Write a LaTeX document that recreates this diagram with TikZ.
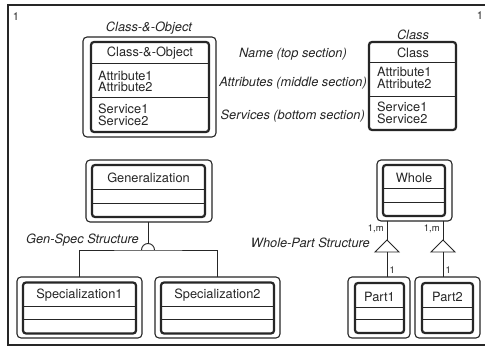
\documentclass[tikz,border=0pt]{standalone}
\usepackage{fontspec}
\setmainfont{TeX Gyre Heros}
\definecolor{ink}{gray}{0.15}
\begin{document}
\begin{tikzpicture}[x=1pt,y=-1pt,
  outerbox/.style={draw=ink, line width=1.1pt, rounded corners=4pt, inner sep=0pt, outer sep=0pt},
  innerbox/.style={draw=ink, line width=2.2pt, rounded corners=3pt, inner sep=0pt, outer sep=0pt},
  divider/.style={draw=ink, line width=0.9pt},
  conn/.style={draw=ink, line width=0.9pt},
  frame/.style={draw=ink, line width=1.6pt},
  txt/.style={font=\fontsize{12.8}{11.5}\selectfont, text=ink, inner sep=0pt, align=left},
  lbl/.style={font=\fontsize{12.8}{11.5}\selectfont\itshape, text=ink, inner sep=0pt},
  small/.style={font=\fontsize{9.5}{9.5}\selectfont, text=ink, inner sep=0pt},
  pagenum/.style={font=\fontsize{11}{11}\selectfont, text=ink, inner sep=0pt}]
\useasboundingbox (0,0) rectangle (485,352);
\fill[white] (0,0) rectangle (485,352);
% frame
\draw[frame] (485,5) -- (8,5) -- (8,345) -- (485,345);
\node[pagenum] (n1) at (16,17) {1};
\node[pagenum] (n2) at (480,16) {1};

% Class-&-Object
\node[lbl] (coTitle) at (149,28) {Class-\&-Object};
\node[outerbox, minimum width=133pt, minimum height=100pt] (coO) at (149.5,87) {};
\node[innerbox, minimum width=118pt, minimum height=90pt] (coI) at (150,87) {};
\draw[divider] (coI.west |- 0,63) -- (coI.east |- 0,63);
\draw[divider] (coI.west |- 0,97) -- (coI.east |- 0,97);
\node[txt] (coName) at (150,53.5) {Class-\&-Object};
\node[txt, anchor=west] (coAttr) at (98,81.5) {Attribute1\\Attribute2};
\node[txt, anchor=west] (coServ) at (98,115) {Service1\\Service2};

% middle labels
\node[lbl] (lName) at (293,54) {Name (top section)};
\node[lbl, anchor=east] (lAttr) at (367,83) {Attributes (middle section)};
\node[lbl, anchor=east] (lServ) at (365,116) {Services (bottom section)};

% Class
\node[lbl] (clTitle) at (413,35) {Class};
\node[innerbox, minimum width=87pt, minimum height=88pt] (clI) at (412.5,86) {};
\draw[divider] (clI.west |- 0,62) -- (clI.east |- 0,62);
\draw[divider] (clI.west |- 0,96) -- (clI.east |- 0,96);
\node[txt] (clName) at (413,53) {Class};
\node[txt, anchor=west] (clAttr) at (377,78) {Attribute1\\Attribute2};
\node[txt, anchor=west] (clServ) at (377,113) {Service1\\Service2};

% Generalization
\node[outerbox, minimum width=126pt, minimum height=62pt] (genO) at (149,191) {};
\node[innerbox, minimum width=113pt, minimum height=52pt] (genI) at (148.5,191) {};
\draw[divider] (genI.west |- 0,189) -- (genI.east |- 0,189);
\draw[divider] (genI.west |- 0,203) -- (genI.east |- 0,203);
\node[txt] (genName) at (148.5,177.5) {Generalization};

% Specialization1
\node[outerbox, minimum width=125pt, minimum height=61pt] (sp1O) at (79.5,307.5) {};
\node[innerbox, minimum width=113pt, minimum height=51pt] (sp1I) at (79.5,308) {};
\draw[divider] (sp1I.west |- 0,306) -- (sp1I.east |- 0,306);
\draw[divider] (sp1I.west |- 0,319) -- (sp1I.east |- 0,319);
\node[txt] (sp1Name) at (79.5,295.5) {Specialization1};

% Specialization2
\node[outerbox, minimum width=125pt, minimum height=61pt] (sp2O) at (217.5,307.5) {};
\node[innerbox, minimum width=113pt, minimum height=51pt] (sp2I) at (217.5,308) {};
\draw[divider] (sp2I.west |- 0,306) -- (sp2I.east |- 0,306);
\draw[divider] (sp2I.west |- 0,319) -- (sp2I.east |- 0,319);
\node[txt] (sp2Name) at (217.5,295.5) {Specialization2};

% Gen-Spec structure
\coordinate (gsTop) at (148,243.5);
\coordinate (gsBase) at (148,250);
\draw[conn] (genO.south -| gsTop) -- (gsTop);
\draw[conn] (gsBase) ++(-6.5,0) arc[start angle=180, end angle=360, radius=6.5];
\draw[conn] (sp1O.north) |- (gsBase) -| (sp2O.north);
\node[lbl, anchor=east] (gsLbl) at (139,240) {Gen-Spec Structure};

% Whole
\node[outerbox, minimum width=75pt, minimum height=61pt] (whO) at (414.5,190.5) {};
\node[innerbox, minimum width=62pt, minimum height=51pt] (whI) at (414,190.5) {};
\draw[divider] (whI.west |- 0,188) -- (whI.east |- 0,188);
\draw[divider] (whI.west |- 0,202) -- (whI.east |- 0,202);
\node[txt] (whName) at (414,177.5) {Whole};

% Part1
\node[outerbox, minimum width=62pt, minimum height=61pt] (p1O) at (379,307.5) {};
\node[innerbox, minimum width=49pt, minimum height=50pt] (p1I) at (379.5,308) {};
\draw[divider] (p1I.west |- 0,307) -- (p1I.east |- 0,307);
\draw[divider] (p1I.west |- 0,319) -- (p1I.east |- 0,319);
\node[txt] (p1Name) at (379.5,296.5) {Part1};

% Part2
\node[outerbox, minimum width=65pt, minimum height=61pt] (p2O) at (447.5,307.5) {};
\node[innerbox, minimum width=51pt, minimum height=50pt] (p2I) at (447.5,308) {};
\draw[divider] (p2I.west |- 0,307) -- (p2I.east |- 0,307);
\draw[divider] (p2I.west |- 0,319) -- (p2I.east |- 0,319);
\node[txt] (p2Name) at (447.5,296.5) {Part2};

% Whole-Part structure
\coordinate (t1) at (387,240);
\coordinate (t1b) at (387,252);
\coordinate (t2) at (443,240);
\coordinate (t2b) at (443,252);
\draw[conn] (whO.south -| t1) -- (t1);
\draw[conn] (t1) -- ++(-12,12) -- ++(24,0) -- cycle;
\draw[conn] (t1b) -- (t1b |- p1O.north);
\draw[conn] (whO.south -| t2) -- (t2);
\draw[conn] (t2) -- ++(-12,12) -- ++(24,0) -- cycle;
\draw[conn] (t2b) -- (t2b |- p2O.north);
\node[small, anchor=east] (m1) at (384,229) {1,m};
\node[small, anchor=east] (m2) at (440,229) {1,m};
\node[small, anchor=west] (o1) at (389.5,270) {1};
\node[small, anchor=west] (o2) at (445.5,270) {1};
\node[lbl, anchor=east] (wpLbl) at (370,243) {Whole-Part Structure};
\end{tikzpicture}
\end{document}
